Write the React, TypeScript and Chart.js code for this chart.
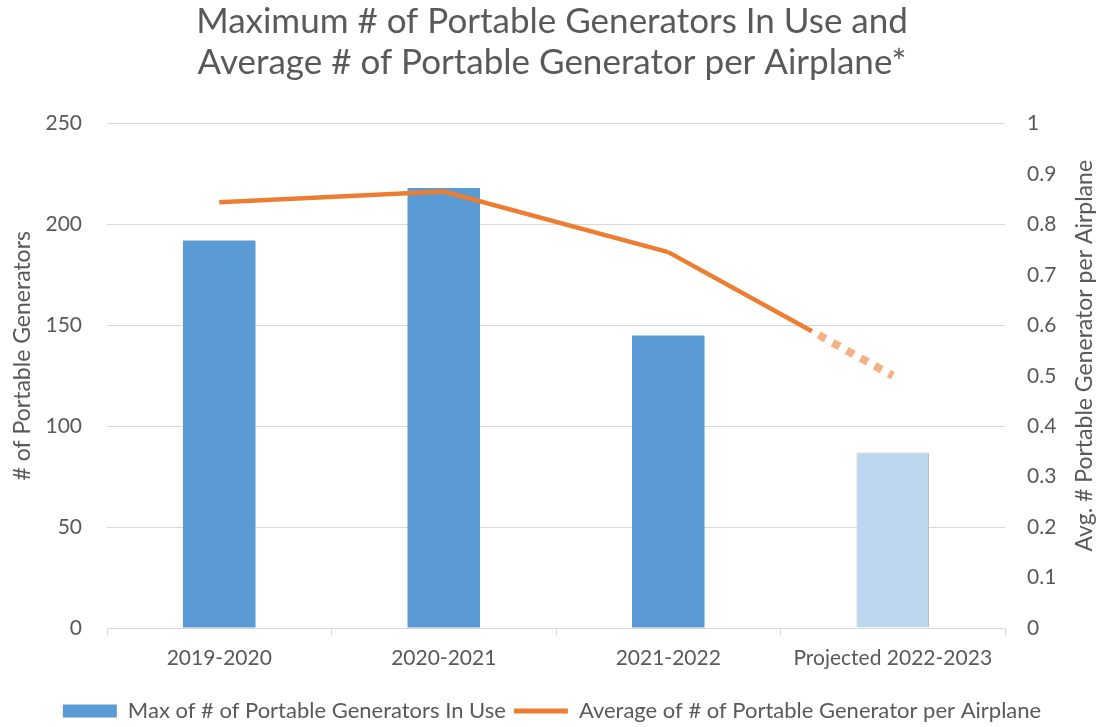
import React, { useEffect, useRef } from "react";
import { Chart, registerables } from "chart.js";

Chart.register(...registerables);

const categories = ["2019-2020", "2020-2021", "2021-2022", "Projected 2022-2023"];
const maxGenerators = [192, 218, 145, 87];
const avgPerAirplane = [0.844, 0.865, 0.745, 0.5];
const leftTicks = [0, 50, 100, 150, 200, 250];
const rightTicks = [0, 0.1, 0.2, 0.3, 0.4, 0.5, 0.6, 0.7, 0.8, 0.9, 1];
const titleLines = [
  "Maximum # of Portable Generators In Use and",
  "Average # of Portable Generator per Airplane*",
];
const barLabel = "Max of # of Portable Generators In Use";
const lineLabel = "Average of # of Portable Generator per Airplane";
const leftTitle = "# of Portable Generators";
const rightTitle = "Avg. # Portable Generator per Airplane";

const FONT = "Lato, 'Open Sans', sans-serif";
const GRAY = "#595959";
const BLUE = "#5B9BD5";
const LIGHT_BLUE = "#BDD7EE";
const ORANGE = "#ED7D31";
const LIGHT_ORANGE = "#F4B183";
const SOLID_FRACTION = 0.64;

const projectedSegment = {
  id: "projectedSegment",
  afterDatasetsDraw(chart: any) {
    const meta = chart.getDatasetMeta(1);
    const pts = meta.data;
    const n = pts.length;
    if (n < 2) return;
    const a = pts[n - 2];
    const b = pts[n - 1];
    const mx = a.x + (b.x - a.x) * SOLID_FRACTION;
    const my = a.y + (b.y - a.y) * SOLID_FRACTION;
    const ctx = chart.ctx;
    ctx.save();
    ctx.lineWidth = 4.5;
    ctx.strokeStyle = ORANGE;
    ctx.lineCap = "butt";
    ctx.beginPath();
    ctx.moveTo(a.x, a.y);
    ctx.lineTo(mx, my);
    ctx.stroke();
    ctx.setLineDash([8, 8]);
    ctx.lineWidth = 8;
    ctx.strokeStyle = LIGHT_ORANGE;
    ctx.beginPath();
    ctx.moveTo(mx + (b.x - a.x) * 0.03, my + (b.y - a.y) * 0.03);
    ctx.lineTo(b.x, b.y);
    ctx.stroke();
    ctx.restore();
  },
};

const axisTitles = {
  id: "axisTitles",
  afterDraw(chart: any) {
    const { ctx, chartArea } = chart;
    const cy = (chartArea.top + chartArea.bottom) / 2 - 20;
    ctx.save();
    ctx.fillStyle = GRAY;
    ctx.font = `23px ${FONT}`;
    ctx.textAlign = "center";
    ctx.textBaseline = "middle";
    const draw = (text: string, x: number) => {
      ctx.save();
      ctx.translate(x, cy);
      ctx.rotate(-Math.PI / 2);
      ctx.fillText(text, 0, 0);
      ctx.restore();
    };
    draw(leftTitle, chartArea.left - 84);
    draw(rightTitle, chartArea.right + 80);
    ctx.restore();
  },
};

export default function App() {
  const ref = useRef<HTMLCanvasElement | null>(null);

  useEffect(() => {
    if (!ref.current) return;
    const n = categories.length;
    const chart = new Chart(ref.current, {
      type: "bar",
      data: {
        labels: categories,
        datasets: [
          {
            type: "bar",
            label: barLabel,
            data: maxGenerators,
            backgroundColor: maxGenerators.map((_, i) => (i === n - 1 ? LIGHT_BLUE : BLUE)),
            borderColor: maxGenerators.map((_, i) => (i === n - 1 ? "#BFBFBF" : BLUE)),
            borderWidth: maxGenerators.map((_, i) => (i === n - 1 ? 1 : 0)),
            barPercentage: 0.323,
            categoryPercentage: 1,
            yAxisID: "y",
            order: 2,
          } as any,
          {
            type: "line",
            label: lineLabel,
            data: avgPerAirplane,
            borderColor: ORANGE,
            backgroundColor: ORANGE,
            borderWidth: 4.5,
            pointRadius: 0,
            pointHoverRadius: 0,
            tension: 0,
            yAxisID: "y1",
            order: 1,
            segment: {
              borderColor: (c: any) => (c.p1DataIndex === n - 1 ? "rgba(0,0,0,0)" : undefined),
            },
          } as any,
        ],
      },
      options: {
        responsive: false,
        animation: false,
        layout: { padding: { left: 0, right: 0, top: 0, bottom: -5 } },
        plugins: {
          title: {
            display: true,
            text: titleLines,
            color: GRAY,
            font: { family: FONT, size: 35, weight: "normal", lineHeight: 1.15 },
            padding: { top: 2, bottom: 41 },
          },
          legend: {
            display: true,
            position: "bottom",
            labels: {
              color: GRAY,
              font: { family: FONT, size: 22 },
              usePointStyle: true,
              pointStyleWidth: 54,
              boxHeight: 13,
              padding: 8,
              generateLabels: (ch: any) => {
                const items = Chart.defaults.plugins.legend.labels.generateLabels(ch);
                items.sort((p: any, q: any) => p.datasetIndex - q.datasetIndex);
                return items.map((it: any) => {
                  if (it.datasetIndex === 0) {
                    return { ...it, pointStyle: "rect", fillStyle: BLUE, strokeStyle: BLUE, lineWidth: 0 };
                  }
                  return { ...it, pointStyle: "line", strokeStyle: ORANGE, fillStyle: ORANGE, lineWidth: 5 };
                });
              },
            },
          },
          tooltip: { enabled: false },
        },
        scales: {
          x: {
            grid: {
              display: true,
              drawOnChartArea: false,
              drawTicks: true,
              offset: true,
              tickLength: 8,
              color: "#D9D9D9",
            },
            border: { display: true, color: "#D9D9D9" },
            ticks: {
              color: GRAY,
              font: { family: FONT, size: 21 },
              padding: 10,
              maxRotation: 0,
            },
            afterFit: (s: any) => {
              s.height = 64;
            },
          },
          y: {
            position: "left",
            min: 0,
            max: 250,
            afterBuildTicks: (s: any) => {
              s.ticks = leftTicks.map((v) => ({ value: v }));
            },
            grid: { color: "#D9D9D9", drawTicks: false },
            border: { display: false },
            ticks: {
              color: GRAY,
              font: { family: FONT, size: 21 },
              padding: 25,
            },
            afterFit: (s: any) => {
              s.width = 107;
            },
          },
          y1: {
            position: "right",
            min: 0,
            max: 1,
            afterBuildTicks: (s: any) => {
              s.ticks = rightTicks.map((v) => ({ value: v }));
            },
            grid: { drawOnChartArea: false, drawTicks: false },
            border: { display: false },
            ticks: {
              color: GRAY,
              font: { family: FONT, size: 21 },
              padding: 22,
              callback: (v: any) => String(Math.round(Number(v) * 10) / 10),
            },
            afterFit: (s: any) => {
              s.width = 99;
            },
          },
        },
      },
      plugins: [projectedSegment, axisTitles],
    });
    return () => chart.destroy();
  }, []);

  return (
    <div style={{ position: "fixed", left: 0, top: 0, width: 1104, height: 727, background: "#fff" }}>
      <canvas ref={ref} width={1104} height={727} style={{ width: 1104, height: 727 }} />
    </div>
  );
}
